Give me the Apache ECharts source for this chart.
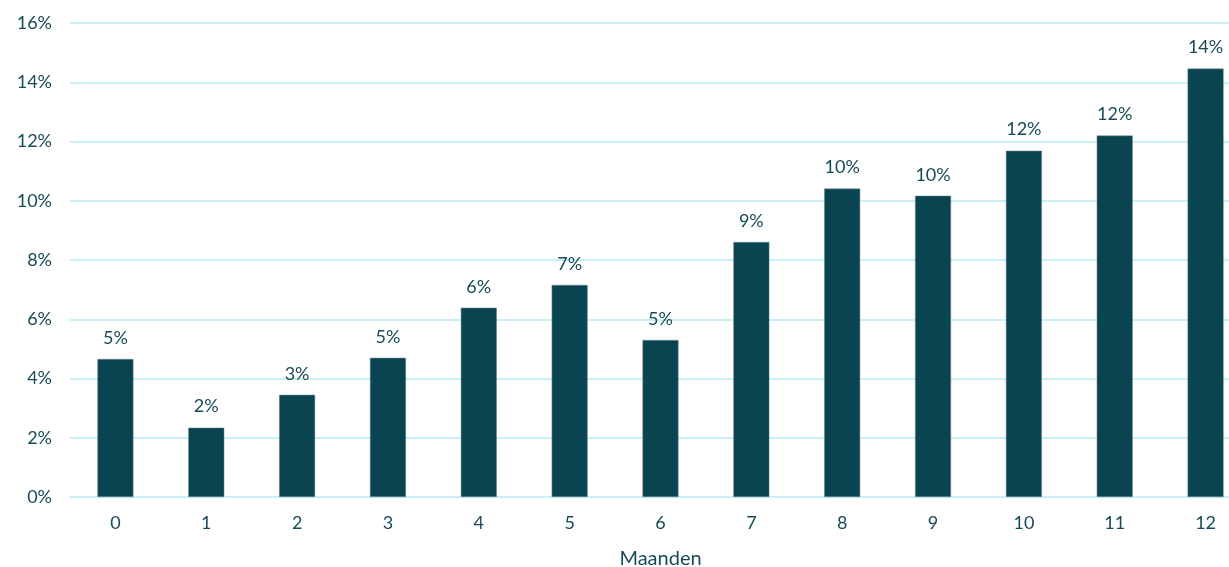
<!DOCTYPE html>
<html>
<head>
<meta charset="utf-8">
<script src="https://cdn.jsdelivr.net/npm/echarts@6/dist/echarts.min.js"></script>
<style>
  html, body { margin: 0; padding: 0; background: #ffffff; }
  #chart { width: 1229px; height: 567px; }
</style>
</head>
<body>
<div id="chart"></div>
<script>
// Months since start
const months = ['0', '1', '2', '3', '4', '5', '6', '7', '8', '9', '10', '11', '12'];
// Share per month, in percent
const shares = [4.66, 2.34, 3.45, 4.70, 6.39, 7.16, 5.30, 8.61, 10.41, 10.17, 11.69, 12.20, 14.46];
// Value axis range
const yMin = 0, yMax = 16, yStep = 2;

const textColor = '#174b57';
const barColor = '#0a4450';
const font = 'Lato, "Open Sans", sans-serif';

const chart = echarts.init(document.getElementById('chart'), null, { renderer: 'canvas' });
chart.setOption({
  animation: false,
  // the plot runs slightly past the right edge of the canvas
  grid: {
    left: 70, top: 23, width: 1181, height: 474,
    containLabel: false,
    outerBoundsMode: 'none'
  },
  xAxis: {
    type: 'category',
    data: months,
    name: 'Maanden',
    nameLocation: 'middle',
    nameGap: 52,
    nameTextStyle: { color: textColor, fontSize: 20, fontFamily: font },
    axisLine: { show: true, lineStyle: { color: '#c8f0f5', width: 2 } },
    axisTick: { show: false },
    axisLabel: { color: textColor, fontSize: 18, fontFamily: font, margin: 17 }
  },
  yAxis: {
    type: 'value',
    min: yMin, max: yMax, interval: yStep,
    axisLine: { show: false },
    axisTick: { show: false },
    splitLine: { lineStyle: { color: '#c8f0f5', width: 2 } },
    axisLabel: {
      color: textColor, fontSize: 18, fontFamily: font, margin: 18,
      formatter: v => v + '%'
    }
  },
  series: [{
    type: 'bar',
    data: shares,
    barWidth: 36,
    itemStyle: { color: barColor, borderColor: '#6f8f96', borderWidth: 0.5 },
    label: {
      show: true,
      position: 'top',
      distance: 12,
      color: textColor,
      fontSize: 18,
      fontFamily: font,
      formatter: p => Math.round(p.value) + '%'
    }
  }]
});
</script>
</body>
</html>
